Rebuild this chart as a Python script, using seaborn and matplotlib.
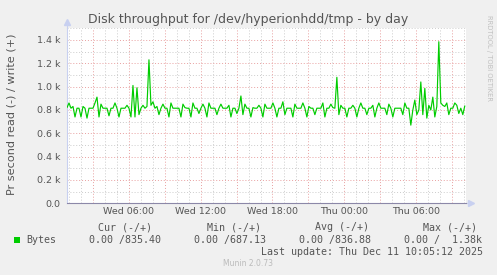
import matplotlib
matplotlib.use("Agg")
import matplotlib.pyplot as plt
import matplotlib.dates as mdates
import matplotlib.ticker as mticker
from matplotlib.patches import Rectangle
import numpy as np
import pandas as pd
import seaborn as sns

# ---------------- data ----------------
start_time = "2025-12-10 00:52"
step = "10min"
x_start = "2025-12-10 00:52"
x_end = "2025-12-11 10:08"

# write throughput in kB/s, one value per 10 minutes
write_k = [
    0.82, 0.86, 0.815, 0.83, 0.74, 0.815, 0.815, 0.74, 0.83, 0.815,
    0.73, 0.815, 0.815, 0.815, 0.86, 0.91, 0.74, 0.85, 0.815, 0.815,
    0.815, 0.75, 0.815, 0.815, 0.86, 0.815, 0.74, 0.815, 0.815, 0.815,
    0.84, 0.815, 0.74, 1.01, 0.74, 0.99, 0.76, 0.815, 0.84, 0.815,
    0.83, 1.23, 0.84, 0.87, 0.815, 0.83, 0.76, 0.815, 0.85, 0.815,
    0.815, 0.74, 0.86, 0.815, 0.815, 0.815, 0.815, 0.74, 0.85, 0.82,
    0.815, 0.815, 0.74, 0.86, 0.815, 0.815, 0.77, 0.815, 0.85, 0.815,
    0.74, 0.86, 0.815, 0.815, 0.815, 0.76, 0.815, 0.85, 0.815, 0.815,
    0.815, 0.84, 0.74, 0.815, 0.815, 0.77, 0.815, 0.92, 0.76, 0.85,
    0.815, 0.815, 0.74, 0.82, 0.815, 0.815, 0.84, 0.815, 0.74, 0.85,
    0.815, 0.815, 0.815, 0.86, 0.815, 0.74, 0.815, 0.815, 0.87, 0.76,
    0.815, 0.815, 0.815, 0.74, 0.85, 0.815, 0.815, 0.815, 0.86, 0.815,
    0.74, 0.83, 0.815, 0.815, 0.76, 0.815, 0.815, 0.815, 0.86, 0.74,
    0.815, 0.815, 0.85, 0.82, 0.815, 1.08, 0.76, 0.84, 0.815, 0.815,
    0.74, 0.815, 0.815, 0.84, 0.815, 0.74, 0.815, 0.86, 0.815, 0.815,
    0.76, 0.815, 0.815, 0.84, 0.74, 0.815, 0.86, 0.815, 0.815, 0.815,
    0.76, 0.85, 0.815, 0.74, 0.815, 0.815, 0.815, 0.815, 0.76, 0.86,
    0.815, 0.815, 0.67, 0.80, 0.885, 0.76, 0.80, 1.04, 0.76, 0.985,
    0.73, 0.84, 0.80, 0.91, 0.74, 0.83, 1.385, 0.86, 0.84, 0.83,
    0.86, 0.76, 0.815, 0.815, 0.86, 0.84, 0.77, 0.815, 0.76, 0.835,
]

title = "Disk throughput for /dev/hyperionhdd/tmp - by day"
ylabel = "Pr second read (-) / write (+)"
series_name = "Bytes"
stat_headers = ["Cur (-/+)", "Min (-/+)", "Avg (-/+)", "Max (-/+)"]
stat_values = ["0.00 /835.40", "0.00 /687.13", "0.00 /836.88", "0.00 /  1.38k"]
last_update = "Last update: Thu Dec 11 10:05:12 2025"
footer = "Munin 2.0.73"
watermark = "RRDTOOL / TOBI OETIKER"

# ---------------- figure ----------------
W, H = 497, 275
sns.set_style("white")
plt.rcParams["font.family"] = ["DejaVu Sans"]

df = pd.DataFrame({
    "time": pd.date_range(start_time, periods=len(write_k), freq=step),
    "bytes": np.array(write_k) * 1000.0,
})

fig = plt.figure(figsize=(W / 100, H / 100), dpi=100, facecolor="#F0F0F0")
ax_l, ax_r, ax_t, ax_b = 67, 466, 28.3, 203.3
ax = fig.add_axes([ax_l / W, 1 - ax_b / H, (ax_r - ax_l) / W, (ax_b - ax_t) / H])
ax.set_facecolor("white")

sns.lineplot(data=df, x="time", y="bytes", ax=ax, color="#00CC00", linewidth=0.85, zorder=5)

ax.set_xlim(pd.Timestamp(x_start), pd.Timestamp(x_end))
ax.set_ylim(0, 1500)

# ticks & grid
ax.xaxis.set_major_locator(mdates.HourLocator(byhour=range(0, 24, 3)))
ax.xaxis.set_minor_locator(mdates.HourLocator())

def xfmt(x, pos):
    d = mdates.num2date(x)
    return d.strftime("%a %H:%M") if d.hour % 6 == 0 else ""

ax.xaxis.set_major_formatter(mticker.FuncFormatter(xfmt))
ax.yaxis.set_major_locator(mticker.MultipleLocator(200))
ax.yaxis.set_minor_locator(mticker.MultipleLocator(100))

def yfmt(v, pos):
    return "0.0" if v == 0 else f"{v/1000:.1f} k"

ax.yaxis.set_major_formatter(mticker.FuncFormatter(yfmt))

dot = (0, (1, 2))
ax.grid(which="minor", color="#CCCCCC", linestyle=dot, linewidth=0.7, zorder=1)
ax.grid(which="major", color="#E8A0A0", linestyle=dot, linewidth=0.7, zorder=2)
ax.set_axisbelow(True)

ax.tick_params(axis="both", which="major", direction="in", length=2, width=0.7,
               colors="#E08080", labelcolor="#555555", labelsize=6.8)
ax.tick_params(axis="both", which="minor", direction="in", length=1.5, width=0.6,
               colors="#C0C0C0")
ax.tick_params(axis="x", pad=3)
ax.tick_params(axis="y", pad=5)

for s in ["top", "right"]:
    ax.spines[s].set_visible(False)
ax.spines["left"].set_color("#C8D0F0")
ax.spines["bottom"].set_color("#8C88A8")
ax.spines["left"].set_linewidth(0.8)
ax.spines["bottom"].set_linewidth(0.8)

# axis arrows
ax.plot([0, 0], [1.0, 1.035], transform=ax.transAxes, color="#C8D0F0", lw=0.8, clip_on=False)
ax.plot([0], [1.035], marker="^", markersize=4, color="#C8D0F0", transform=ax.transAxes, clip_on=False)
ax.plot([1.0, 1.012], [0, 0], transform=ax.transAxes, color="#C8D0F0", lw=0.8, clip_on=False)
ax.plot([1.012], [0], marker=">", markersize=4, color="#C8D0F0", transform=ax.transAxes, clip_on=False)

ax.set_xlabel("")
ax.set_ylabel("")

def px(x, y):
    return x / W, 1 - y / H

fig.text(*px(248.5, 19), title, ha="center", va="center", fontsize=9, color="#555555")
fig.text(*px(11.5, 114), ylabel, ha="center", va="center", rotation=90, fontsize=8.1, color="#555555")
fig.text(*px(489, 15), watermark, ha="center", va="top", rotation=270, fontsize=4.9, color="#C0C0C0")

mono = dict(family="DejaVu Sans Mono", fontsize=7.2, color="#555555", va="center", ha="left")
for xh, t in zip([98, 207, 315, 423], stat_headers):
    fig.text(*px(xh, 227.3), t, **mono)
fig.add_artist(Rectangle(px(14, 243), 6 / W, 6 / H, transform=fig.transFigure,
                         facecolor="#00CC00", edgecolor="none"))
fig.text(*px(26, 239.7), series_name, **mono)
for xv, t in zip([89, 194, 299, 404], stat_values):
    fig.text(*px(xv, 239.7), t, **mono)
fig.text(*px(483, 251.7), last_update, **{**mono, "ha": "right"})
fig.text(*px(248, 263.3), footer, ha="center", va="center", fontsize=5.5, color="#BBBBBB")

fig.savefig("out.png", dpi=100, facecolor=fig.get_facecolor())
